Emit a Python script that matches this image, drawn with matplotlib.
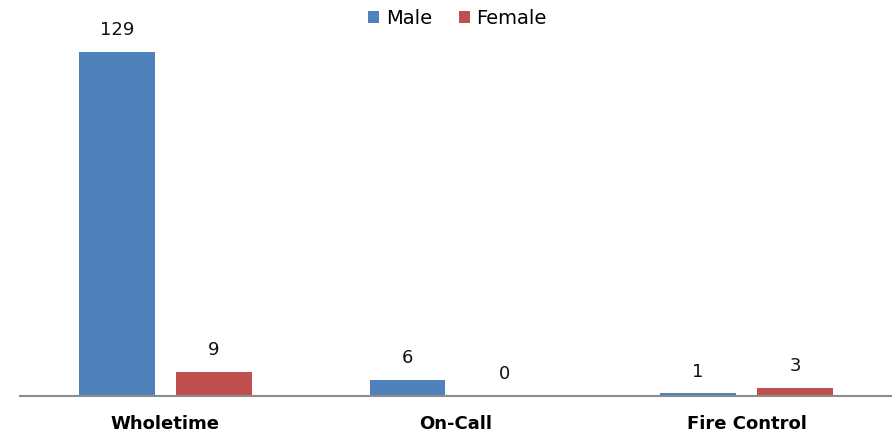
import matplotlib
import matplotlib.pyplot as plt
import numpy as np

matplotlib.use("Agg")

# Data
categories = ["Wholetime", "On-Call", "Fire Control"]
male = [129, 6, 1]
female = [9, 0, 3]

MALE_COLOUR = "#4F81BD"
FEMALE_COLOUR = "#C0504D"

W, H, DPI = 892, 434, 100
fig = plt.figure(figsize=(W / DPI, H / DPI), dpi=DPI)

# axes placed in pixel terms: plot area from x=20 to 892, baseline at y=396
left, right = 20, 892
bottom, top = 396, 20
ax = fig.add_axes([left / W, 1 - bottom / H, (right - left) / W, (bottom - top) / H])

x = np.arange(len(categories))
bar_w = 0.26
offset = 0.167

b1 = ax.bar(x - offset, male, bar_w, color=MALE_COLOUR, label="Male", zorder=2)
b2 = ax.bar(x + offset, female, bar_w, color=FEMALE_COLOUR, label="Female", zorder=2)

for bars in (b1, b2):
    for rect in bars:
        ax.annotate(f"{rect.get_height():.0f}",
                    (rect.get_x() + rect.get_width() / 2, rect.get_height()),
                    xytext=(0, 12), textcoords="offset points",
                    ha="center", va="baseline", fontsize=13, color="#111111")

ax.set_xlim(-0.5, len(categories) - 0.5)
ax.set_ylim(0, (bottom - top) / 2.667)

ax.set_xticks(x)
ax.set_xticklabels(categories, fontsize=13, fontweight="bold")
ax.tick_params(axis="x", length=0, pad=13.5)
ax.set_yticks([])

for side in ("top", "right", "left"):
    ax.spines[side].set_visible(False)
ax.spines["bottom"].set_color("#8c8c8c")
ax.spines["bottom"].set_linewidth(1.5)

fig.legend(handles=[b1, b2], loc="upper center", bbox_to_anchor=(0.513, 1.02),
           ncol=2, frameon=False, fontsize=14, handlelength=0.55,
           handleheight=0.55, handletextpad=0.35, columnspacing=1.4)

fig.savefig("out.png", dpi=DPI, facecolor="white")
plt.close(fig)
